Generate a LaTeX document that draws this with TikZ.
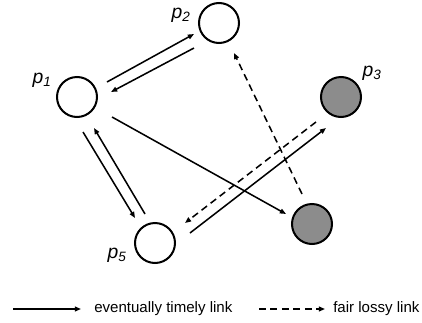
\documentclass[tikz,border=0pt]{standalone}
\usepackage{fontspec}
\setmainfont{Liberation Sans}
\usetikzlibrary{arrows.meta}

\begin{document}
\begin{tikzpicture}[x=.75pt,y=-.75pt,
 font=\fontsize{11.3}{13}\selectfont,
 proc/.style={circle,draw,line width=1.5pt,minimum size=30pt,inner sep=0pt},
 faulty/.style={proc,fill=black!45},
 plabel/.style={font=\itshape\fontsize{14.5}{17}\selectfont,inner sep=0pt},
 timely/.style={-{Triangle[length=4.6pt,width=3.6pt]},line width=1.15pt},
 lossy/.style={timely,dash pattern=on 5.2pt off 3.4pt}]
\path[use as bounding box] (0,0) rectangle (422,322);
% processes
\node[proc] (p1) at (77,97) {};
\node[proc] (p2) at (219,23) {};
\node[faulty] (p3) at (341,97) {};
\node[faulty] (p4) at (312,224) {};
\node[proc] (p5) at (155,243) {};
\node[plabel] (l1) at (42,80) {p\textsubscript{1}};
\node[plabel] (l2) at (181,15) {p\textsubscript{2}};
\node[plabel] (l3) at (372,73) {p\textsubscript{3}};
\node[plabel] (l5) at (117,255) {p\textsubscript{5}};
% links
\draw[timely] ([shift={(30,-15)}]p1.center) -- ([shift={(-25,11)}]p2.center);
\draw[timely] ([shift={(-25,25)}]p2.center) -- ([shift={(34,-5)}]p1.center);
\draw[timely] ([shift={(6,35)}]p1.center) -- ([shift={(-20,-25)}]p5.center);
\draw[timely] ([shift={(-10,-29)}]p5.center) -- ([shift={(17,31)}]p1.center);
\draw[timely] ([shift={(35,20)}]p1.center) -- ([shift={(-26,-10)}]p4.center);
\draw[timely] ([shift={(35,-10)}]p5.center) -- ([shift={(-15,31)}]p3.center);
\draw[lossy] ([shift={(-25,25)}]p3.center) -- ([shift={(30,-20)}]p5.center);
\draw[lossy] ([shift={(-10,-30)}]p4.center) -- ([shift={(15,30)}]p2.center);
% legend
\coordinate (ts) at (13,309);
\node[anchor=west,inner sep=0pt] (tl) at (94,309) {eventually timely link};
\coordinate (fs) at (259,309);
\node[anchor=west,inner sep=0pt] (fl) at (333,309) {fair lossy link};
\draw[timely] (ts) -- ([xshift=-13*.75pt]tl.west);
\draw[lossy] (fs) -- ([xshift=-8*.75pt]fl.west);
\end{tikzpicture}
\end{document}
